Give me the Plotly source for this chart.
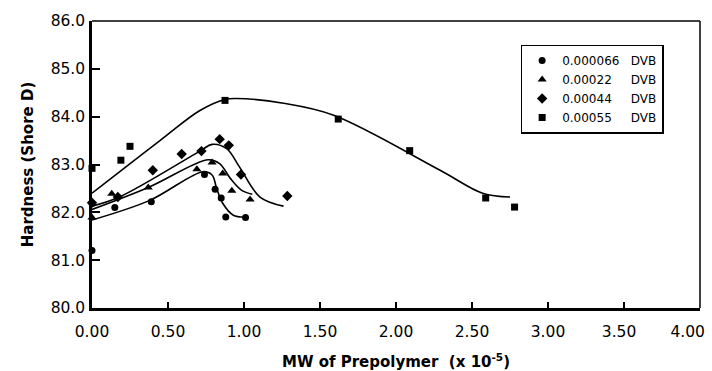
import plotly.graph_objects as go

# ---- data ----
NB = "\u00a0"
series_names = ["0.000066" + NB * 3 + "DVB", "0.00022" + NB * 5 + "DVB",
                "0.00044" + NB * 5 + "DVB", "0.00055" + NB * 5 + "DVB"]
symbols = ["circle", "triangle-up", "diamond", "square"]

circ_x = [0.00, 0.00, 0.15, 0.39, 0.74, 0.81, 0.85, 0.88, 1.01]
circ_y = [82.19, 81.20, 82.10, 82.22, 82.79, 82.48, 82.30, 81.90, 81.89]
tri_x = [0.00, 0.13, 0.37, 0.69, 0.79, 0.86, 0.92, 1.04]
tri_y = [81.89, 82.39, 82.52, 82.90, 83.04, 82.81, 82.45, 82.27]
dia_x = [0.00, 0.17, 0.40, 0.59, 0.72, 0.84, 0.90, 0.98, 1.285]
dia_y = [82.20, 82.32, 82.88, 83.22, 83.28, 83.53, 83.40, 82.79, 82.34]
sq_x = [0.00, 0.19, 0.25, 0.875, 1.62, 2.09, 2.59, 2.78]
sq_y = [82.92, 83.09, 83.38, 84.34, 83.95, 83.29, 82.30, 82.11]

# fitted curves
circ_fit_x = [0.00, 0.38, 0.73, 0.79, 0.82, 0.86, 0.93, 1.00]
circ_fit_y = [81.84, 82.25, 82.85, 82.78, 82.50, 82.19, 81.94, 81.90]
tri_fit_x = [0.00, 0.37, 0.765, 0.84, 0.91, 0.985, 1.055]
tri_fit_y = [82.06, 82.52, 83.10, 83.02, 82.71, 82.46, 82.38]
dia_fit_x = [0.00, 0.18, 0.71, 0.79, 0.886, 0.97, 1.105, 1.26]
dia_fit_y = [82.13, 82.32, 83.28, 83.42, 83.33, 82.95, 82.32, 82.13]
sq_fit_x = [0.00, 0.447, 0.71, 0.875, 0.95, 1.26, 1.59, 2.29, 2.57, 2.75]
sq_fit_y = [82.40, 83.50, 84.13, 84.36, 84.38, 84.28, 84.03, 82.88, 82.40, 82.32]

x_ticks = [0.0, 0.5, 1.0, 1.5, 2.0, 2.5, 3.0, 3.5, 4.0]
x_tick_text = ["0.00", "0.50", "1.00", "1.50", "2.00", "2.50", "3.00",
               "3.50" + NB * 2, "4.00" + NB * 5]
y_ticks = [80, 81, 82, 83, 84, 85, 86]

FONT = "DejaVu Sans"

fig = go.Figure()
fits = [(circ_fit_x, circ_fit_y), (tri_fit_x, tri_fit_y), (dia_fit_x, dia_fit_y), (sq_fit_x, sq_fit_y)]
for fx, fy in fits:
    fig.add_trace(go.Scatter(x=fx, y=fy, mode="lines", showlegend=False,
                             line=dict(color="black", width=1.6, shape="spline", smoothing=1.0),
                             hoverinfo="skip", cliponaxis=False))
pts = [(circ_x, circ_y), (tri_x, tri_y), (dia_x, dia_y), (sq_x, sq_y)]
sizes = [7, 8, 8, 7]
for (px, py), name, sym, sz in zip(pts, series_names, symbols, sizes):
    fig.add_trace(go.Scatter(x=px, y=py, mode="markers", name=name, cliponaxis=False,
                             marker=dict(symbol=sym, color="black", size=sz)))

fig.update_layout(
    width=712, height=371,
    margin=dict(l=92, r=12, t=21, b=63, autoexpand=False),
    paper_bgcolor="white", plot_bgcolor="white",
    font=dict(family=FONT, color="black"),
    legend=dict(x=0.705, y=0.918, xanchor="left", yanchor="top",
                bordercolor="black", borderwidth=1.5, bgcolor="white",
                font=dict(family=FONT, size=12), itemwidth=30,
                tracegroupgap=0),
    shapes=[
        dict(type="line", xref="paper", yref="paper", x0=0, x1=1, y0=1, y1=1,
             line=dict(color="black", width=1.5)),
        dict(type="line", xref="paper", yref="paper", x0=1, x1=1, y0=0, y1=1,
             line=dict(color="black", width=1.5)),
    ],
)
fig.update_xaxes(range=[0, 4], tickvals=x_ticks, ticktext=x_tick_text, automargin=False,
                 ticks="inside", ticklen=6, tickwidth=1.5, tickcolor="black",
                 showline=True, linecolor="black", linewidth=2.5, showgrid=False, zeroline=False,
                 tickfont=dict(family=FONT, size=15.5), ticklabelstandoff=8,
                 ticklabeloverflow="allow",
                 title=dict(text="<b>MW of Prepolymer  (x 10<sup>-5</sup>)</b>",
                            font=dict(family=FONT, size=15), standoff=20))
fig.update_yaxes(range=[80, 86], tickvals=y_ticks, tickformat=".1f", automargin=False,
                 ticks="inside", ticklen=8, tickwidth=1.5, tickcolor="black",
                 showline=True, linecolor="black", linewidth=2.5, showgrid=False, zeroline=False,
                 tickfont=dict(family=FONT, size=15.5), ticklabelstandoff=1,
                 title=dict(text="<b>Hardness (Shore D)</b>",
                            font=dict(family=FONT, size=15), standoff=14))

fig.write_html("out.html", config={"displayModeBar": False},
               post_script="document.body.style.margin='0';")
